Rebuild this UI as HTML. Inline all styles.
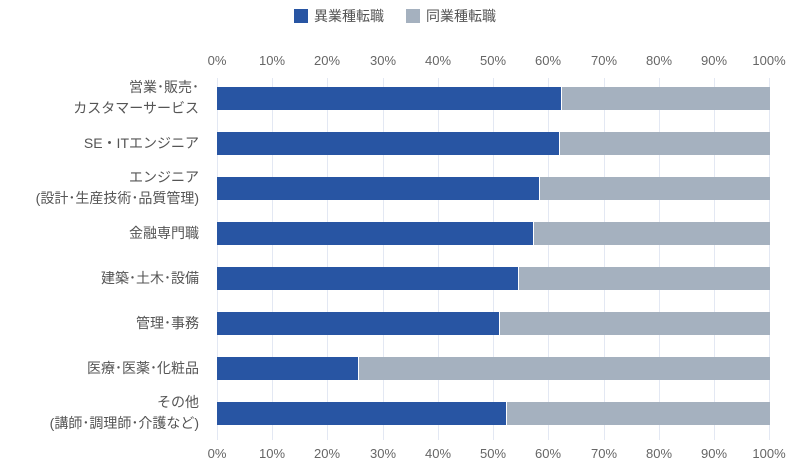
<!DOCTYPE html>
<html><head><meta charset="utf-8"><style>
body{margin:0;background:#fff;}
svg text{font-family:"Liberation Sans","Noto Sans CJK JP",sans-serif;fill:#555;}
</style></head><body>
<svg width="800" height="468" xmlns="http://www.w3.org/2000/svg">
<rect x="294" y="9" width="14" height="14" fill="#2855a3"/>
<text x="314" y="21" font-size="14">異業種転職</text>
<rect x="406" y="9" width="14" height="14" fill="#a5b1bf"/>
<text x="426" y="21" font-size="14">同業種転職</text>
<g stroke="#e3e8f3" stroke-width="1">
<line x1="217.5" y1="78" x2="217.5" y2="440"/><line x1="272.5" y1="78" x2="272.5" y2="440"/><line x1="327.5" y1="78" x2="327.5" y2="440"/><line x1="383.5" y1="78" x2="383.5" y2="440"/><line x1="438.5" y1="78" x2="438.5" y2="440"/><line x1="493.5" y1="78" x2="493.5" y2="440"/><line x1="548.5" y1="78" x2="548.5" y2="440"/><line x1="604.5" y1="78" x2="604.5" y2="440"/><line x1="659.5" y1="78" x2="659.5" y2="440"/><line x1="714.5" y1="78" x2="714.5" y2="440"/><line x1="769.5" y1="78" x2="769.5" y2="440"/>
</g>
<g font-size="13" text-anchor="middle">
<text x="217" y="65" style="fill:#666">0%</text><text x="272" y="65" style="fill:#666">10%</text><text x="327" y="65" style="fill:#666">20%</text><text x="383" y="65" style="fill:#666">30%</text><text x="438" y="65" style="fill:#666">40%</text><text x="493" y="65" style="fill:#666">50%</text><text x="548" y="65" style="fill:#666">60%</text><text x="604" y="65" style="fill:#666">70%</text><text x="659" y="65" style="fill:#666">80%</text><text x="714" y="65" style="fill:#666">90%</text><text x="769" y="65" style="fill:#666">100%</text>
<text x="217" y="458" style="fill:#666">0%</text><text x="272" y="458" style="fill:#666">10%</text><text x="327" y="458" style="fill:#666">20%</text><text x="383" y="458" style="fill:#666">30%</text><text x="438" y="458" style="fill:#666">40%</text><text x="493" y="458" style="fill:#666">50%</text><text x="548" y="458" style="fill:#666">60%</text><text x="604" y="458" style="fill:#666">70%</text><text x="659" y="458" style="fill:#666">80%</text><text x="714" y="458" style="fill:#666">90%</text><text x="769" y="458" style="fill:#666">100%</text>
</g>
<g>
<rect x="217" y="87" width="344" height="23" fill="#2855a3"/><rect x="562" y="87" width="208" height="23" fill="#a5b1bf"/>
<rect x="217" y="132" width="342" height="23" fill="#2855a3"/><rect x="560" y="132" width="210" height="23" fill="#a5b1bf"/>
<rect x="217" y="177" width="322" height="23" fill="#2855a3"/><rect x="540" y="177" width="230" height="23" fill="#a5b1bf"/>
<rect x="217" y="222" width="316" height="23" fill="#2855a3"/><rect x="534" y="222" width="236" height="23" fill="#a5b1bf"/>
<rect x="217" y="267" width="301" height="23" fill="#2855a3"/><rect x="519" y="267" width="251" height="23" fill="#a5b1bf"/>
<rect x="217" y="312" width="282" height="23" fill="#2855a3"/><rect x="500" y="312" width="270" height="23" fill="#a5b1bf"/>
<rect x="217" y="357" width="141" height="23" fill="#2855a3"/><rect x="359" y="357" width="411" height="23" fill="#a5b1bf"/>
<rect x="217" y="402" width="289" height="23" fill="#2855a3"/><rect x="507" y="402" width="263" height="23" fill="#a5b1bf"/>
</g>
<g font-size="14" text-anchor="end">
<text x="199" y="92">営業･販売･</text><text x="199" y="113">カスタマーサービス</text>
<text x="199" y="148">SE・ITエンジニア</text>
<text x="199" y="182">エンジニア</text><text x="199" y="203">(設計･生産技術･品質管理)</text>
<text x="199" y="238">金融専門職</text>
<text x="199" y="283">建築･土木･設備</text>
<text x="199" y="328">管理･事務</text>
<text x="199" y="373">医療･医薬･化粧品</text>
<text x="199" y="407">その他</text><text x="199" y="428">(講師･調理師･介護など)</text>
</g>
</svg>
</body></html>
